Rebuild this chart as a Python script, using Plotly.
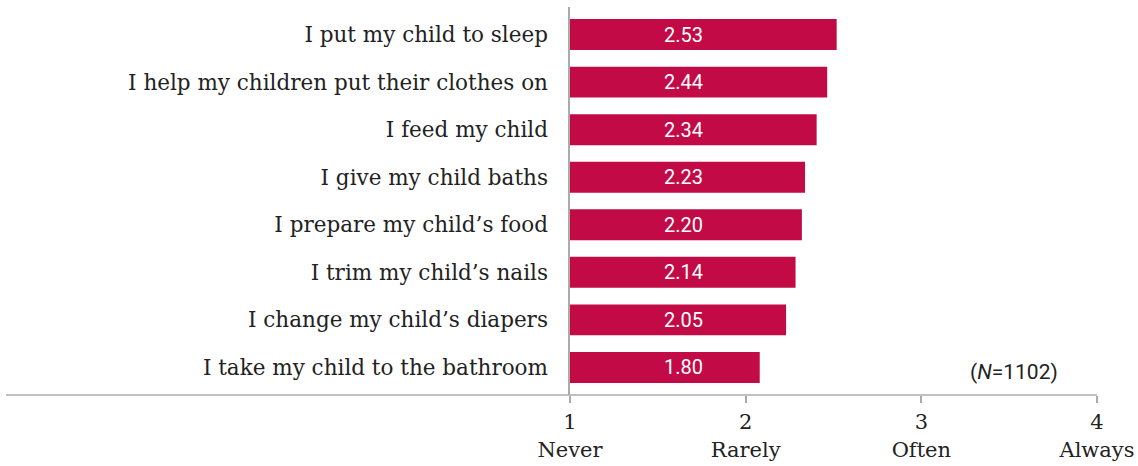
import plotly.graph_objects as go

categories = [
    "I put my child to sleep",
    "I help my children put their clothes on",
    "I feed my child",
    "I give my child baths",
    "I prepare my child’s food",
    "I trim my child’s nails",
    "I change my child’s diapers",
    "I take my child to the bathroom",
]
values = [2.53, 2.44, 2.34, 2.23, 2.20, 2.14, 2.05, 1.80]
tick_labels = ["1<br>Never", "2<br>Rarely", "3<br>Often", "4<br>Always"]
note = "(<i>N</i>=1102)"

BAR = "#c20a46"
GRID = "#ababab"
SERIF = "DejaVu Serif"
XMAX = 5.0

fig = go.Figure()
fig.add_trace(go.Bar(
    x=values, y=categories, orientation="h",
    marker=dict(color=BAR, line=dict(width=0)),
    hoverinfo="skip",
))

for c, v in zip(categories, values):
    fig.add_annotation(x=1.08, y=c, xref="x", yref="y", text=f"{v:.2f}",
                       showarrow=False, xanchor="center", yanchor="middle",
                       font=dict(family="Roboto", size=20, color="white"))

fig.add_annotation(x=0.842, y=7.1, xref="paper", yref="y", text=note,
                   showarrow=False, xanchor="center", yanchor="middle",
                   font=dict(family="Roboto", size=21, color="#222"))

fig.add_shape(type="line", xref="paper", yref="paper",
              x0=-1.0702, x1=1.0, y0=0, y1=0,
              line=dict(color=GRID, width=1.5))

fig.update_layout(
    width=1138, height=466,
    margin=dict(l=570, r=41, t=7, b=71, autoexpand=False),
    paper_bgcolor="white", plot_bgcolor="white",
    bargap=0.35,
    showlegend=False,
    font=dict(family=SERIF, size=21, color="#222"),
)
fig.update_xaxes(
    range=[0, XMAX], automargin=False,
    tickvals=[0, XMAX / 3, 2 * XMAX / 3, XMAX],
    ticktext=tick_labels,
    ticks="outside", ticklen=7, tickcolor=GRID, tickwidth=1.5,
    ticklabelstandoff=1,
    showgrid=False, zeroline=False, showline=False,
    tickfont=dict(family=SERIF, size=21, color="#222"),
)
fig.update_yaxes(
    range=[7.58, -0.58], automargin=False,
    showgrid=False, zeroline=False,
    showline=True, linecolor=GRID, linewidth=1.5,
    ticks="", ticklabelstandoff=16,
    tickfont=dict(family=SERIF, size=21.5, color="#222"),
)

fig.write_html("out.html")
